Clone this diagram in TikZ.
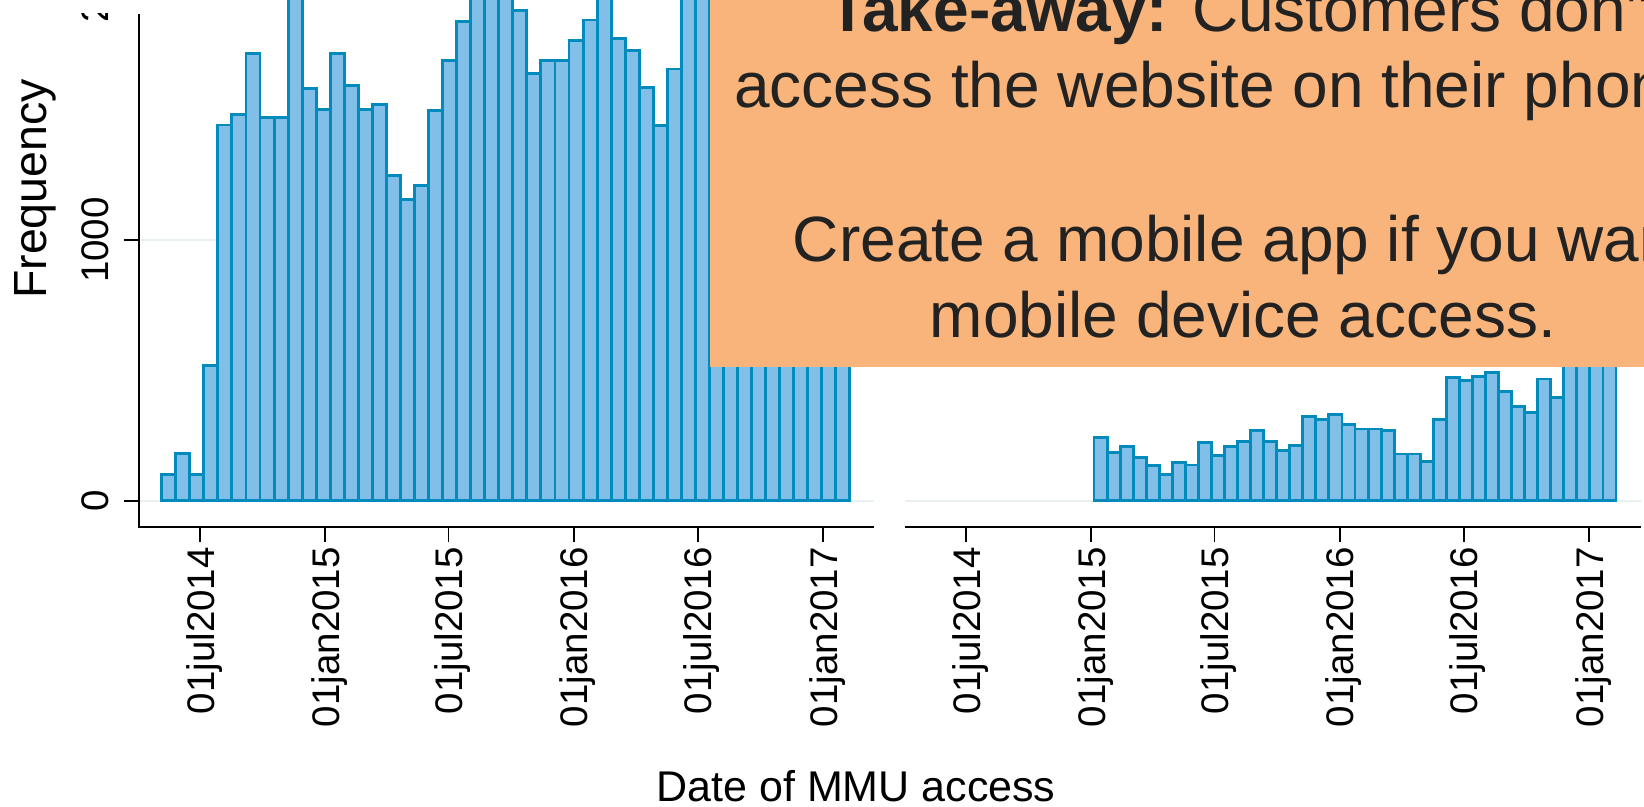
\documentclass[tikz,border=0pt]{standalone}
\usepackage{fontspec}
\setmainfont{Liberation Sans}

\definecolor{barfill}{RGB}{130,191,232}
\definecolor{barline}{RGB}{0,139,188}
\definecolor{gridc}{RGB}{232,240,242}
\definecolor{notefill}{RGB}{248,180,122}
\definecolor{notetextc}{RGB}{34,34,34}

\tikzset{
  histbar/.style={fill=barfill, draw=barline, line width=2.9pt},
  gridrule/.style={draw=gridc, line width=2pt},
  axisrule/.style={draw=black, line width=1.9pt},
  ticklab/.style={font=\fontsize{38.5}{46}\selectfont, inner sep=0pt, text=black},
  axtitle/.style={inner sep=0pt, text=black},
  notebox/.style={fill=notefill, draw=none},
  notetext/.style={font=\fontsize{64}{77}\selectfont, text=notetextc, inner sep=0pt, anchor=base},
}

\begin{document}
\begin{tikzpicture}[x=1pt, y=-1pt]
  \useasboundingbox (0,0) rectangle (1644,806);
  \clip (0,0) rectangle (1644,806);

  % horizontal grid lines (0 and 1000) in both panels
  \foreach \gy in {240,500.7} {
    \draw[gridrule] (139,\gy) -- (874,\gy);
    \draw[gridrule] (905,\gy) -- (1641,\gy);
  }

  % left panel histogram
  \foreach \v [count=\i] in {102,182,99,520,1441,1482,1716,1471,1469,2050,
                            1582,1499,1716,1594,1502,1520,1249,1157,1209,1498,
                            1688,1838,2000,2000,2000,1880,1637,1688,1688,1765,
                            1844,2000,1774,1726,1586,1439,1656,2000,2000,1950,
                            1900,1850,1800,1750,1700,1650,1600,1550,1500} {
    \pgfmathsetmacro\xl{161.7+(\i-1)*14.045}
    \pgfmathsetmacro\xr{\xl+14.045}
    \pgfmathsetmacro\yt{500.7-\v*0.2607}
    \draw[histbar] (\xl,500.7) rectangle (\xr,\yt);
  }

  % right panel histogram
  \foreach \v [count=\i] in {243,186,207,165,134,99,147,137,222,173,
                            207,226,271,226,192,211,322,313,331,293,
                            275,275,271,179,179,150,313,473,460,478,
                            491,418,361,338,467,397,600,650,700,750} {
    \pgfmathsetmacro\xl{1094+(\i-1)*13.05}
    \pgfmathsetmacro\xr{\xl+13.05}
    \pgfmathsetmacro\yt{500.7-\v*0.2607}
    \draw[histbar] (\xl,500.7) rectangle (\xr,\yt);
  }

  % axes
  \draw[axisrule] (139,14) -- (139,527.3) -- (874,527.3);
  \draw[axisrule] (905,527.3) -- (1641,527.3);

  % y ticks and labels
  \draw[axisrule] (124,240) -- (139,240);
  \draw[axisrule] (124,500.7) -- (139,500.7);
  \node[ticklab, rotate=90, anchor=base] (ylab0) at (108.5,500.7) {0};
  \node[ticklab, rotate=90, anchor=base] (ylab1000) at (108.5,240) {1000};
  \begin{scope}
    \clip (60,13) rectangle (135,60);
    \node[ticklab, rotate=90, anchor=base] (ylab2000) at (108.5,-20.7) {2000};
  \end{scope}

  % x ticks and date labels, both panels
  \foreach \t/\lab [count=\k] in {200/01jul2014, 325.3/01jan2015, 448.5/01jul2015,
                                  573.8/01jan2016, 697.7/01jul2016, 823/01jan2017} {
    \draw[axisrule] (\t,527.3) -- (\t,542);
    \node[ticklab, rotate=90, anchor=base east] (xla\k) at (\t+14,547) {\lab};
    \draw[axisrule] (\t+766,527.3) -- (\t+766,542);
    \node[ticklab, rotate=90, anchor=base east] (xlb\k) at (\t+780,547) {\lab};
  }

  % axis titles
  \node[axtitle, rotate=90, anchor=base, font=\fontsize{46.5}{56}\selectfont] (ytitle) at (46.7,189) {Frequency};
  \node[axtitle, anchor=base, font=\fontsize{43}{52}\selectfont] (xtitle) at (856,801.7) {Date of MMU access};

  % take-away note
  \fill[notebox] (709.7,-5) rectangle (1700,366.7);
  \node[notetext] (take1) at (1243,31.7) {\textbf{Take-away:} Customers don't};
  \node[notetext] (take2) at (1243,107.3) {access the website on their phones.};
  \node[notetext] (take4) at (1243,261.7) {Create a mobile app if you want};
  \node[notetext] (take5) at (1243,337.3) {mobile device access.};
\end{tikzpicture}
\end{document}
